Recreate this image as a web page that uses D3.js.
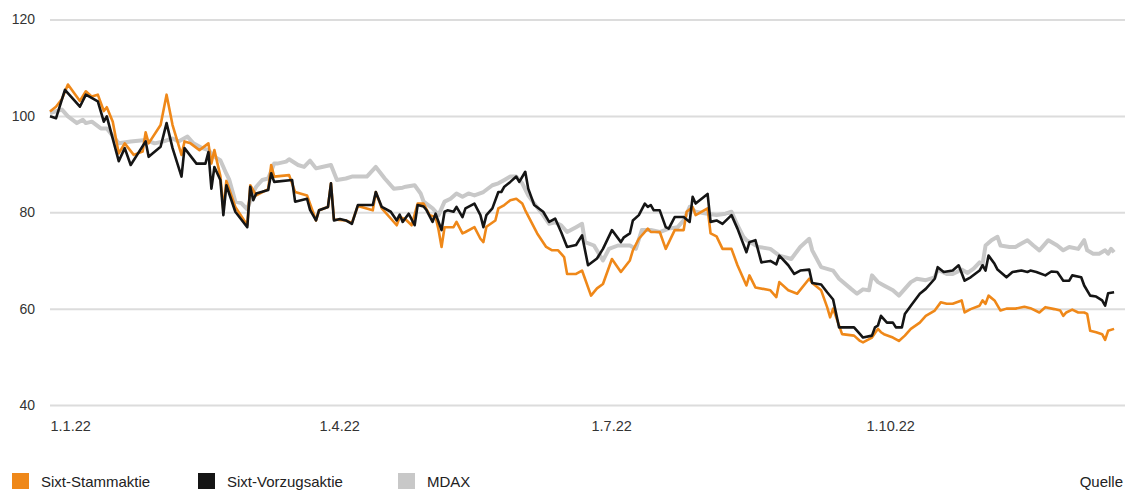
<!DOCTYPE html>
<html>
<head>
<meta charset="utf-8">
<script src="https://cdn.jsdelivr.net/npm/d3@7"></script>
<style>
  body { margin: 0; background: #fff; }
  svg { display: block; font-family: "Liberation Sans", Arial, sans-serif; }
</style>
</head>
<body>
<div id="plot"></div>
<script>
// Kursentwicklung 2022, indexiert (1.1.22 = 100)
// Werte als [Tage seit 1.1.22, Indexwert]
var stammaktie = [
  [0,100.9],[2,101.9],[4,103.5],[6,106.5],[10,103.1],[12,105.1],[14,104.0],[16,104.4],[18,101.0],[19,101.8],
  [21,98.8],[23,92.2],[25,94.3],[28,91.9],[31,92.6],[32,96.6],[33,94.3],[37,98.1],[39,104.4],[41,98.1],
  [44,91.9],[45,94.7],[47,94.3],[50,92.9],[53,94.3],[54,90.1],[55,92.9],[57,87.5],[58,80.5],[59,86.5],
  [62,81.1],[66,77.3],[67,85.6],[69,83.5],[73,84.8],[74,89.8],[75,87.4],[80,87.7],[82,84.2],[86,83.5],
  [89,78.3],[90,80.4],[93,81.1],[94,86.0],[95,78.5],[99,78.3],[101,77.8],[103,81.3],[108,80.4],[109,84.2],
  [111,80.8],[116,77.3],[117,79.0],[119,78.5],[121,77.3],[123,81.8],[125,81.8],[127,79.4],[129,79.0],[130,76.3],
  [131,72.8],[132,76.9],[135,76.9],[136,78.0],[138,75.6],[139,75.9],[142,76.9],[144,74.5],[145,73.8],[146,77.0],
  [149,78.3],[150,80.8],[152,81.5],[154,82.5],[156,82.8],[158,81.8],[159,80.4],[161,78.0],[163,75.6],[166,72.8],
  [168,72.1],[170,72.1],[172,70.7],[173,67.2],[176,67.2],[178,67.9],[181,62.7],[183,64.2],[185,65.1],[188,70.3],
  [191,67.6],[194,70.0],[195,72.1],[197,74.5],[200,76.6],[201,75.9],[204,75.9],[206,72.4],[209,76.3],[212,76.3],
  [213,80.1],[215,81.1],[216,79.4],[220,80.8],[221,75.6],[223,75.0],[225,72.4],[228,72.4],[230,69.0],[233,64.8],
  [234,66.9],[236,64.4],[241,63.8],[243,62.4],[244,65.5],[247,63.8],[250,63.1],[254,66.2],[255,65.3],[258,63.8],
  [260,60.3],[261,58.2],[262,60.0],[265,54.7],[269,54.4],[271,53.3],[272,53.0],[275,54.0],[277,55.8],[278,55.1],
  [279,54.7],[282,54.0],[284,53.3],[286,54.4],[288,55.8],[291,57.1],[293,58.5],[296,59.6],[298,61.3],[300,61.0],
  [302,61.0],[305,61.7],[306,59.2],[308,59.9],[311,60.6],[312,61.7],[313,61.0],[314,62.7],[316,61.7],[318,59.6],
  [320,60.0],[323,60.0],[326,60.4],[328,60.1],[331,59.2],[333,60.3],[336,59.9],[338,59.6],[339,58.5],[340,59.2],
  [342,59.8],[344,59.2],[346,59.2],[347,58.9],[348,55.4],[350,55.1],[352,54.7],[353,53.5],[354,55.4],[356,55.8]
];

var vorzugsaktie = [
  [0,99.9],[2,99.5],[5,105.4],[8,103.3],[10,101.9],[12,104.4],[16,103.0],[18,98.8],[19,99.9],[23,90.6],
  [25,93.3],[27,89.8],[32,94.7],[33,91.5],[37,93.6],[39,98.5],[41,93.3],[44,87.4],[45,93.3],[49,90.1],
  [52,90.1],[53,92.5],[54,84.9],[55,89.4],[57,86.7],[58,79.4],[59,85.6],[62,80.1],[66,76.9],[67,85.3],
  [68,82.5],[69,83.9],[73,84.6],[74,88.1],[75,86.3],[81,86.7],[82,82.2],[86,82.8],[87,80.5],[89,78.3],
  [90,80.4],[93,81.1],[94,86.0],[95,78.3],[97,78.6],[99,78.3],[101,77.6],[103,81.5],[108,81.5],[109,84.2],
  [111,81.1],[114,80.1],[116,78.3],[117,79.5],[118,78.0],[120,79.7],[122,77.3],[123,81.5],[125,81.2],[126,80.4],
  [128,78.0],[129,79.7],[130,78.0],[131,76.3],[132,80.1],[133,80.4],[135,80.1],[136,81.1],[138,79.0],[139,80.8],
  [142,81.8],[144,79.4],[145,76.9],[146,79.4],[148,80.8],[150,84.2],[151,84.2],[152,85.3],[154,86.3],[156,87.4],
  [157,86.3],[159,88.4],[160,84.9],[162,81.5],[165,80.1],[167,78.0],[169,78.7],[171,75.9],[173,72.8],[176,73.2],
  [178,75.2],[180,69.0],[183,70.4],[185,72.4],[188,76.3],[191,73.8],[192,74.8],[194,75.6],[195,78.3],[197,79.4],
  [199,81.8],[200,81.1],[201,81.5],[202,80.4],[204,80.4],[206,76.9],[207,76.6],[209,79.0],[212,79.0],[214,78.0],
  [215,83.2],[216,81.8],[218,82.8],[220,83.8],[221,78.0],[223,78.3],[225,77.6],[228,79.4],[230,76.6],[233,71.7],
  [234,73.8],[236,74.2],[238,69.6],[241,69.9],[243,69.2],[244,71.0],[247,69.0],[249,67.2],[251,67.9],[254,68.1],
  [255,65.3],[258,65.0],[260,63.4],[262,61.9],[264,56.1],[269,56.1],[271,54.7],[272,54.0],[275,54.4],[276,56.1],
  [277,56.5],[278,58.5],[280,57.1],[282,57.1],[283,56.1],[285,56.1],[286,58.9],[288,60.6],[291,63.1],[293,64.1],
  [296,66.2],[297,68.6],[299,67.6],[302,67.9],[304,69.0],[306,65.8],[308,66.5],[311,67.9],[312,69.0],[313,67.9],
  [314,71.0],[316,69.3],[317,68.1],[320,66.5],[322,67.6],[325,67.9],[327,67.6],[328,67.9],[330,67.6],[333,66.9],
  [335,67.7],[337,67.6],[339,65.8],[341,65.8],[342,66.9],[345,66.5],[346,64.8],[348,62.7],[350,62.5],[352,61.7],
  [353,60.6],[354,63.2],[356,63.4]
];

var mdax = [
  [0,100.6],[4,101.3],[6,99.9],[9,98.5],[11,99.2],[12,98.5],[14,98.8],[17,97.4],[19,97.4],[23,94.3],
  [27,94.7],[32,95.0],[35,94.3],[38,94.7],[41,95.3],[43,94.7],[46,95.7],[48,94.3],[51,93.3],[53,92.9],
  [55,91.5],[57,90.8],[59,88.0],[60,86.7],[62,82.2],[64,81.9],[66,80.6],[68,84.2],[69,85.3],[71,86.7],
  [73,87.0],[75,90.1],[76,90.1],[79,90.5],[80,91.0],[83,89.8],[85,89.4],[87,90.7],[89,89.1],[91,89.4],
  [94,89.8],[96,86.7],[99,87.0],[101,87.4],[106,87.4],[109,89.4],[112,87.0],[115,84.9],[118,85.1],[119,85.3],
  [122,85.6],[124,83.9],[125,82.2],[128,80.8],[130,79.4],[132,82.2],[134,82.8],[136,83.9],[138,83.2],[140,83.9],
  [142,83.5],[145,84.2],[148,85.6],[150,86.0],[152,86.7],[154,87.4],[156,87.4],[157,86.7],[158,86.0],[160,83.5],
  [162,81.8],[165,79.4],[167,77.6],[169,77.9],[171,77.3],[173,75.9],[176,76.9],[178,77.6],[179,73.8],[182,73.1],
  [185,70.0],[187,72.4],[190,73.1],[192,73.1],[194,73.1],[196,72.4],[198,76.3],[201,76.3],[204,75.9],[207,76.6],
  [210,76.9],[212,78.3],[214,81.1],[216,80.1],[220,79.7],[223,79.4],[226,79.7],[228,80.1],[230,77.3],[232,74.9],
  [233,74.2],[235,73.5],[237,72.8],[241,72.4],[244,71.0],[248,70.3],[251,72.8],[254,74.5],[255,72.1],[258,68.6],
  [262,67.9],[264,66.2],[268,64.1],[270,63.1],[272,64.0],[274,63.8],[275,66.9],[277,65.5],[279,64.8],[282,63.8],
  [284,62.7],[286,64.1],[288,65.5],[290,66.2],[293,65.9],[296,66.5],[297,68.1],[300,67.2],[302,67.2],[305,68.1],
  [307,67.4],[309,68.3],[311,69.6],[312,69.2],[313,73.1],[315,74.2],[317,74.9],[318,73.1],[321,72.8],[323,72.8],
  [325,73.5],[327,74.2],[329,73.1],[331,72.1],[334,74.2],[337,73.1],[339,72.1],[341,72.8],[344,72.4],[346,74.2],
  [347,72.1],[349,71.4],[351,71.4],[353,72.1],[354,71.4],[355,72.4],[356,71.7]
];

var yTicks = [40, 60, 80, 100, 120];
var xTicks = [new Date(2022,0,1), new Date(2022,3,1), new Date(2022,6,1), new Date(2022,9,1)];
var seriesNames = ['Sixt-Stammaktie', 'Sixt-Vorzugsaktie', 'MDAX'];

var start = new Date(2022,0,1);

var width = 1125;
var height = 490;

var svg = d3.select('#plot')
  .append('svg')
  .attr('width', width)
  .attr('height', height);

var x = d3.scaleTime()
  .domain([start, new Date(2022,11,31)])
  .range([50, 1138]);

var y = d3.scaleLinear()
  .domain([40, 120])
  .range([405, 19.5]);

//Gitterlinien + Y-Beschriftung
var yAxis = svg.append('g')
  .attr('transform', 'translate(50,0)')
  .call(d3.axisLeft(y).tickValues(yTicks).tickSize(-(width - 50)).tickPadding(15));
yAxis.select('.domain').remove();
yAxis.selectAll('line')
  .style('stroke', '#dcdcdc')
  .style('stroke-width', '2px');
yAxis.selectAll('text')
  .style('font-size', '14px')
  .style('fill', '#333')
  .style('font-family', '"Liberation Sans", Arial, sans-serif');

//X-Beschriftung
var xAxis = svg.append('g')
  .attr('transform', 'translate(0,418)')
  .call(d3.axisBottom(x).tickValues(xTicks).tickSize(0).tickFormat(d3.timeFormat('%-d.%-m.%y')));
xAxis.select('.domain').remove();
xAxis.selectAll('text')
  .attr('text-anchor', 'start')
  .attr('dy', '0.71em')
  .style('font-size', '14.5px')
  .style('fill', '#333')
  .style('font-family', '"Liberation Sans", Arial, sans-serif');

//Linien
var line = d3.line()
  .x(function(d){ return x(d3.timeDay.offset(start, d[0])); })
  .y(function(d){ return y(d[1]); })
  .curve(d3.curveLinear);

var colors = ['#ef8819', '#151515', '#c8c8c8'];

svg.append('path')
  .datum(mdax)
  .attr('d', line)
  .style('fill', 'none')
  .style('stroke', colors[2])
  .style('stroke-width', '4px')
  .style('stroke-linejoin', 'round');

svg.append('path')
  .datum(stammaktie)
  .attr('d', line)
  .style('fill', 'none')
  .style('stroke', colors[0])
  .style('stroke-width', '2.6px')
  .style('stroke-linejoin', 'round');

svg.append('path')
  .datum(vorzugsaktie)
  .attr('d', line)
  .style('fill', 'none')
  .style('stroke', colors[1])
  .style('stroke-width', '2.6px')
  .style('stroke-linejoin', 'round');

//Legende
var legendX = [12, 198, 398];
var legend = svg.append('g');
seriesNames.forEach(function(name, i){
  legend.append('rect')
    .attr('x', legendX[i])
    .attr('y', 473)
    .attr('width', 17)
    .attr('height', 16)
    .style('fill', colors[i]);
  legend.append('text')
    .attr('x', legendX[i] + 29)
    .attr('y', 487)
    .style('font-size', '15px')
    .style('fill', '#222')
    .text(name);
});

svg.append('text')
  .attr('x', 1123)
  .attr('y', 487)
  .attr('text-anchor', 'end')
  .style('font-size', '15px')
  .style('fill', '#222')
  .text('Quelle');
</script>
</body>
</html>
